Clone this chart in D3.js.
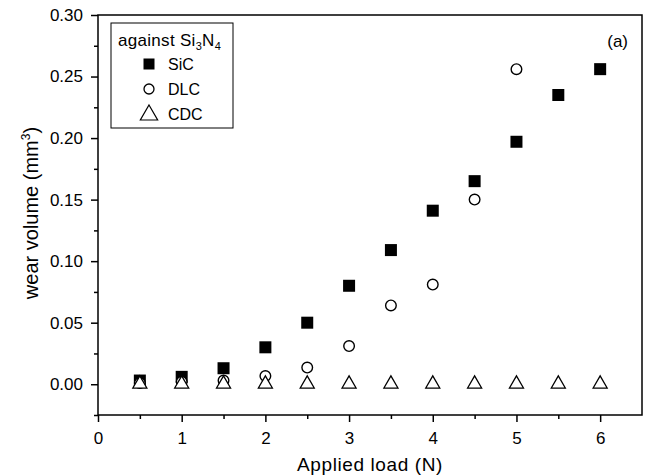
<!DOCTYPE html>
<html>
<head>
<meta charset="utf-8">
<script src="https://cdn.jsdelivr.net/npm/d3@7"></script>
<style>
  body { margin: 0; background: #fff; }
  svg { font-family: Arial, "Liberation Sans", sans-serif; }
</style>
</head>
<body>
<svg width="656" height="476"></svg>
<script>
var loads = [0.5, 1, 1.5, 2, 2.5, 3, 3.5, 4, 4.5, 5, 5.5, 6]
var sic = [0.003, 0.006, 0.013, 0.030, 0.050, 0.080, 0.109, 0.141, 0.165, 0.197, 0.235, 0.256]
var dlcLoads = [0.5, 1, 1.5, 2, 2.5, 3, 3.5, 4, 4.5, 5]
var dlc = [0.001, 0.002, 0.003, 0.0067, 0.0135, 0.031, 0.064, 0.081, 0.150, 0.256]
var cdc = [0.001, 0.001, 0.001, 0.001, 0.001, 0.001, 0.001, 0.001, 0.001, 0.001, 0.001, 0.001]
var xTicks = [0, 1, 2, 3, 4, 5, 6]
var yTicks = [0, 0.05, 0.10, 0.15, 0.20, 0.25, 0.30]

var svg = d3.select('svg')
var m = { left: 98, top: 15, right: 642, bottom: 415 }

var x = d3.scaleLinear().domain([0, 6.5]).range([m.left, m.right])
var y = d3.scaleLinear().domain([-0.025, 0.30]).range([m.bottom, m.top])

// frame
svg.append('rect')
  .attr('x', m.left).attr('y', m.top)
  .attr('width', m.right - m.left).attr('height', m.bottom - m.top)
  .style('fill', 'none').style('stroke', '#000').style('stroke-width', 1.5)

// minor ticks
svg.append('g')
  .attr('transform', 'translate(0,' + m.bottom + ')')
  .call(d3.axisBottom(x).tickValues(d3.range(0.5, 6.5, 1)).tickSize(4).tickFormat(''))
svg.append('g')
  .attr('transform', 'translate(' + m.left + ',0)')
  .call(d3.axisLeft(y).tickValues(d3.range(-0.025, 0.3, 0.05)).tickSize(4).tickFormat(''))

// major ticks
svg.append('g')
  .attr('transform', 'translate(0,' + m.bottom + ')')
  .call(d3.axisBottom(x).tickValues(xTicks).tickSize(7).tickPadding(10).tickFormat(d3.format('d')))
svg.append('g')
  .attr('transform', 'translate(' + m.left + ',0)')
  .call(d3.axisLeft(y).tickValues(yTicks).tickSize(7).tickPadding(8).tickFormat(d3.format('.2f')))

svg.selectAll('.domain').remove()
svg.selectAll('.tick line').style('stroke', '#000').style('stroke-width', 1.5)
svg.selectAll('.tick text').style('font-size', '17px').style('fill', '#000')
  .style('font-family', 'Arial, "Liberation Sans", sans-serif')

// axis titles
svg.append('text')
  .attr('x', (m.left + m.right) / 2).attr('y', 471)
  .attr('text-anchor', 'middle')
  .style('font-size', '19px').style('letter-spacing', '0.6px')
  .text('Applied load (N)')

var yl = svg.append('text')
  .attr('transform', 'translate(38,' + 213 + ') rotate(-90)')
  .attr('text-anchor', 'middle')
  .style('font-size', '20px')
yl.append('tspan').text('wear volume (mm')
yl.append('tspan').attr('dy', -8).style('font-size', '12px').text('3')
yl.append('tspan').attr('dy', 8).text(')')

// markers
var sq = 12
svg.append('g').selectAll('rect')
  .data(loads.map(function (d, i) { return [d, sic[i]] }))
  .enter().append('rect')
  .attr('x', function (d) { return x(d[0]) - sq / 2 })
  .attr('y', function (d) { return y(d[1]) - sq / 2 })
  .attr('width', sq).attr('height', sq)
  .style('fill', '#000')

svg.append('g').selectAll('circle')
  .data(dlcLoads.map(function (d, i) { return [d, dlc[i]] }))
  .enter().append('circle')
  .attr('cx', function (d) { return x(d[0]) })
  .attr('cy', function (d) { return y(d[1]) })
  .attr('r', 5.3)
  .style('fill', '#fff').style('stroke', '#000').style('stroke-width', 1.4)

var tri = d3.symbol().type(d3.symbolTriangle).size(85)
svg.append('g').selectAll('path')
  .data(loads.map(function (d, i) { return [d, cdc[i]] }))
  .enter().append('path')
  .attr('d', tri)
  .attr('transform', function (d) { return 'translate(' + x(d[0]) + ',' + (y(d[1]) + 1) + ')' })
  .style('fill', '#fff').style('stroke', '#000').style('stroke-width', 1.3)

// legend
var lg = svg.append('g')
lg.append('rect')
  .attr('x', 111).attr('y', 23).attr('width', 122).attr('height', 105)
  .style('fill', '#fff').style('stroke', '#000').style('stroke-width', 1)
var lt = lg.append('text').attr('x', 118).attr('y', 46).style('font-size', '17px')
  .style('letter-spacing', '0.3px')
lt.append('tspan').text('against Si')
lt.append('tspan').attr('dy', 4).style('font-size', '11px').text('3')
lt.append('tspan').attr('dy', -4).text('N')
lt.append('tspan').attr('dy', 4).style('font-size', '11px').text('4')

var items = ['SiC', 'DLC', 'CDC']
var iy = d3.scalePoint().domain(items).range([64, 114])
lg.append('rect')
  .attr('x', 149 - 5.5).attr('y', iy('SiC') - 5.5).attr('width', 11).attr('height', 11)
  .style('fill', '#000')
lg.append('circle')
  .attr('cx', 149).attr('cy', iy('DLC')).attr('r', 5)
  .style('fill', '#fff').style('stroke', '#000').style('stroke-width', 1.3)
lg.append('path')
  .attr('d', d3.symbol().type(d3.symbolTriangle).size(130))
  .attr('transform', 'translate(149,' + (iy('CDC') + 1) + ')')
  .style('fill', '#fff').style('stroke', '#000').style('stroke-width', 1.2)
lg.selectAll('.lbl')
  .data(items).enter().append('text')
  .attr('x', 168).attr('y', function (d) { return iy(d) + 6 })
  .style('font-size', '16px')
  .text(function (d) { return d })

svg.append('text')
  .attr('x', 628).attr('y', 47).attr('text-anchor', 'end')
  .style('font-size', '17px')
  .text('(a)')
</script>
</body>
</html>
